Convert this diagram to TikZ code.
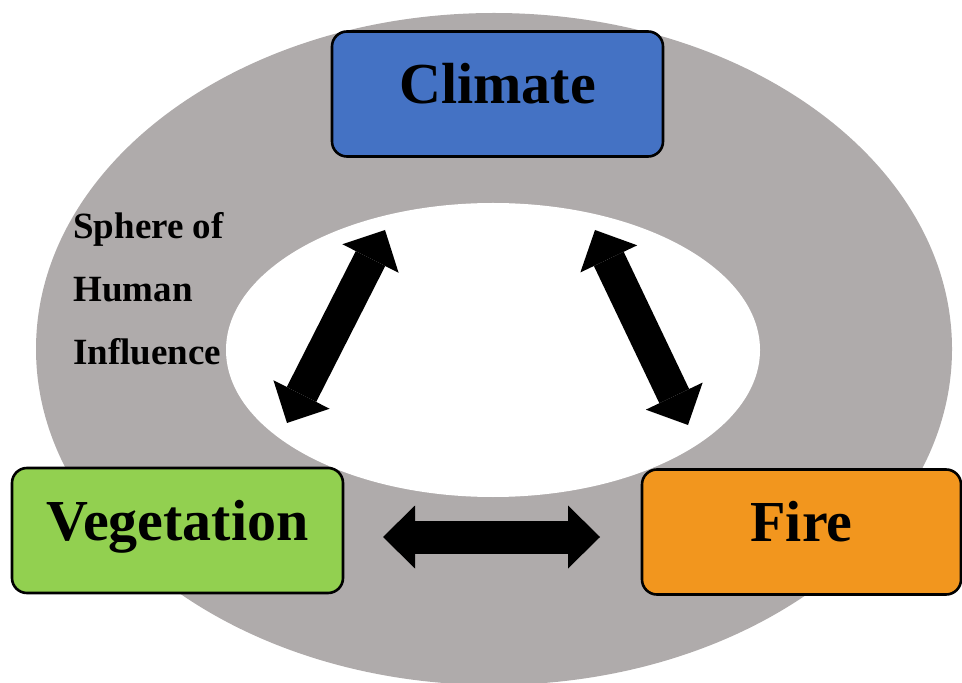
\documentclass[tikz,border=0pt]{standalone}
\usepackage{fontspec}
\setmainfont{Liberation Serif}
\usetikzlibrary{arrows.meta,positioning}
\definecolor{sphere}{HTML}{AFABAB}
\definecolor{climblue}{HTML}{4472C4}
\definecolor{veggreen}{HTML}{92D050}
\definecolor{fireorange}{HTML}{F2961E}
\tikzset{
  factor/.style={draw=black,line width=1.3pt,rounded corners=7.5pt,minimum height=62.5pt,
                 minimum width=165.5pt,inner sep=0pt,text height=20pt,text depth=10.5pt,
                 font=\fontsize{29}{34}\selectfont\bfseries},
  twoway/.style={line width=16.5pt,
                 {Triangle[length=16pt,width=31.5pt,line width=0pt]}-{Triangle[length=16pt,width=31.5pt,line width=0pt]}}
}
\begin{document}
\begin{tikzpicture}[x=0.5pt,y=-0.5pt]
\useasboundingbox (0,0) rectangle (962,683);
\fill[sphere] (494,349) ellipse [x radius=458,y radius=336];
\fill[white] (493,350) ellipse [x radius=267,y radius=147];
\node[factor,fill=climblue] (climate) at (497.5,94) {Climate};
\node[factor,fill=veggreen] (veg) at (177.5,530.5) {Vegetation};
\node[factor,fill=fireorange,minimum width=159.5pt] (fire) at (801.5,532) {Fire};
\node[anchor=north west,inner sep=0pt,align=left,
      font=\fontsize{18.5}{31.5}\selectfont\bfseries] (sphere) at (73,212)
      {Sphere of\\Human\\Influence};
\coordinate (cv-top) at (385,230);
\coordinate (cv-bot) at (287,423);
\coordinate (cf-top) at (595,230);
\coordinate (cf-bot) at (688,425);
\coordinate (vf-left) at (383,537);
\coordinate (vf-right) at (600,537);
\draw[twoway] (cv-top)--(cv-bot);
\draw[twoway] (cf-top)--(cf-bot);
\draw[twoway] (vf-left)--(vf-right);
\end{tikzpicture}
\end{document}
